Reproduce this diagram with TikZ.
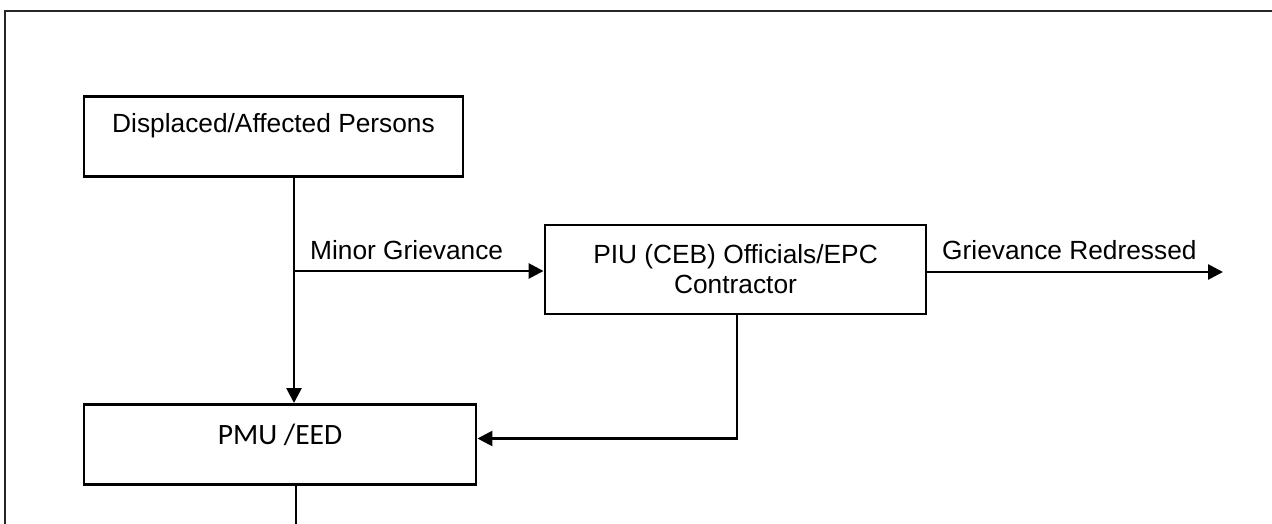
\documentclass[tikz,border=0pt]{standalone}
\usepackage{fontspec}
\setmainfont{Liberation Sans}
\newfontfamily\calfont{Carlito}
\usetikzlibrary{arrows.meta}
\tikzset{
  boxnode/.style={draw=black, line width=2.9pt, inner xsep=0pt, inner ysep=0pt, align=center,
    font=\fontsize{26.3}{30}\selectfont},
  conn/.style={draw=black, line width=2.7pt},
  arr/.style={conn, -{Triangle[length=15pt,width=15pt]}},
  lbl/.style={inner sep=0pt, font=\fontsize{26.3}{30}\selectfont}
}
\begin{document}
\begin{tikzpicture}[x=1pt,y=-1pt]
\useasboundingbox (0,0) rectangle (1272,524);
\clip (0,0) rectangle (1272,524);
\fill[white] (0,0) rectangle (1272,524);
\draw[line width=2.4pt, black!85] (5,11) rectangle (1300,560);
% boxes
\node[boxnode, anchor=north, minimum width=379pt, text height=35.7pt, text depth=44.3pt]
  (dap) at (273.5,95) {Displaced/Affected Persons};
\node[boxnode, minimum width=381pt, minimum height=89pt]
  (piu) at (735.5,269.5) {PIU (CEB) Officials/EPC\\Contractor};
\node[boxnode, anchor=north, minimum width=392pt, text height=40pt, text depth=40pt,
  font=\calfont\fontsize{29.5}{32}\selectfont]
  (pmu) at (280,403) {PMU /EED};
% coordinates
\coordinate (j) at (294,271);
\coordinate (redr) at (1223,272);
\coordinate (piuout) at (737,0);
\coordinate (pmuin) at (0,438.5);
\coordinate (down) at (296,540);
% connectors
\draw[arr] (dap.south -| j) -- (pmu.north -| j);
\draw[arr] (j) -- (j -| piu.west);
\draw[arr] (piu.east |- redr) -- (redr);
\draw[arr] (piu.south -| piuout) |- (pmu.east |- pmuin);
\draw[conn] (pmu.south -| down) -- (down);
% labels
\node[lbl, anchor=base west] (lminor) at (310,259) {Minor Grievance};
\node[lbl, anchor=base west] (lredr) at (942,259) {Grievance Redressed};
\end{tikzpicture}
\end{document}
